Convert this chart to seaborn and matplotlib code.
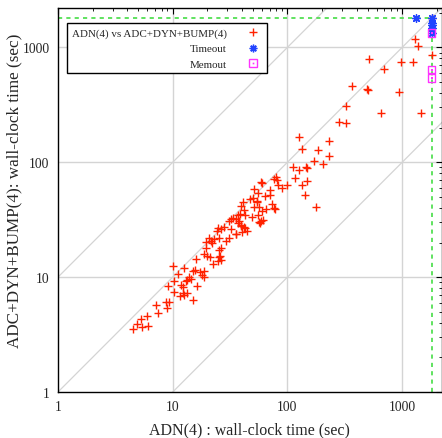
import numpy as np
import pandas as pd
import matplotlib
matplotlib.use("Agg")
import matplotlib.pyplot as plt
import seaborn as sns
from matplotlib.legend_handler import HandlerTuple

# ---------------- data (seconds) ----------------
adn_time = [
    4.48, 4.86, 5.43, 6.13, 5.26, 6.01, 7.49, 7.16, 8.87, 8.69, 9.35, 10.3, 12.4, 13.4, 11.5,
    12.6, 15.1, 9.11, 10.3, 11.7, 12.2, 16.2, 11.1, 13.9, 14.5, 13.4, 13.1, 10.0, 12.6, 16.0,
    15.7, 15.1, 17.3, 18.9, 18.0, 18.6, 20.0, 21.2, 22.6, 24.9,
    51.5, 55.8, 50.5, 54.0, 51.2, 57.0, 47.2, 40.8, 39.4, 41.9, 38.6, 42.7, 49.2, 55.2, 56.6,
    32.1, 33.8, 35.5, 31.0, 36.9, 39.4, 43.0, 40.2, 35.7, 31.0, 28.2, 25.0, 24.2, 26.5, 22.9,
    20.7, 21.9, 19.4, 19.3, 18.8, 25.5, 26.2, 25.5, 26.4, 21.6,
    323, 656, 1445, 281, 323, 126, 232, 135, 185, 232, 170, 206, 112, 126, 146, 148, 116, 148,
    134, 99.3, 89.8, 82.4, 79.1, 76.5, 80.8, 58.9, 60.5, 143, 179, 71.0, 63.8, 70.2, 54.7,
    73.5, 76.5, 78.0, 65.6, 60.1, 36.9, 38.1, 39.2, 41.9, 44.2, 58.9, 57.7, 61.0, 32.3, 35.5,
    29.0, 25.5, 26.0,
    1280, 1371, 513, 974, 1247, 687, 364, 492, 505, 929, 1800, 1800,
]
adc_time = [
    3.57, 3.87, 3.71, 3.74, 4.36, 4.60, 4.86, 5.77, 5.40, 6.13, 6.13, 7.40, 7.26, 7.26, 6.83,
    6.92, 6.38, 8.35, 9.23, 8.62, 8.18, 8.45, 10.7, 10.0, 9.67, 9.48, 9.34, 12.4, 11.9, 14.5,
    11.6, 11.2, 11.1, 11.3, 10.5, 10.1, 15.4, 14.9, 13.1, 13.8,
    58.0, 53.9, 48.8, 45.0, 41.0, 41.0, 48.1, 45.0, 41.2, 38.6, 35.1, 34.7, 33.3, 34.9, 30.1,
    32.0, 32.9, 31.8, 30.5, 29.7, 28.1, 26.9, 24.8, 23.7, 22.1, 27.3, 26.9, 25.0, 26.0, 21.6,
    21.9, 19.8, 20.2, 17.8, 16.0, 21.9, 18.1, 14.9, 14.1, 20.8,
    306, 266, 270, 224, 219, 166, 154, 130, 129, 113, 102, 96.4, 91.4, 85.5, 90.8, 89.1, 72.3,
    68.6, 63.7, 62.8, 59.6, 62.8, 73.8, 71.8, 69.4, 67.2, 65.9, 51.4, 40.4, 57.6, 50.4, 51.4,
    46.2, 43.5, 39.9, 39.4, 38.8, 38.0, 34.9, 30.5, 28.6, 27.3, 25.2, 30.7, 29.3, 31.6, 26.3,
    23.8, 20.8, 17.3, 15.4,
    1191, 1028, 797, 746, 746, 652, 461, 437, 425, 409, 864, 1800,
]
timeout_x = [1324, 1800, 1800, 1800, 1800, 1800]
timeout_y = [1800, 1800, 1641, 1556, 1476, 1335]
memout_x = [1800, 1800, 1800]
memout_y = [1335, 640, 544]

limit = 1800
axis_max = 2200
legend_labels = ["ADN(4) vs ADC+DYN+BUMP(4)", "Timeout", "Memout"]
x_label = "ADN(4) : wall-clock time (sec)"
y_label = "ADC+DYN+BUMP(4): wall-clock time (sec)"

main_df = pd.DataFrame({"adn": adn_time, "adc": adc_time})
to_df = pd.DataFrame({"adn": timeout_x, "adc": timeout_y})
mo_df = pd.DataFrame({"adn": memout_x, "adc": memout_y})

# ---------------- style ----------------
sns.set_theme(style="white")
plt.rcParams["font.family"] = ["Liberation Serif", "DejaVu Serif"]

RED = "#ff2200"
BLUE = "#2244ff"
MAG = "#ff33ff"
GREEN = "#44dd44"
GRID = "#d4d4d4"

fig = plt.figure(figsize=(4.42, 4.39), dpi=100)
ax = fig.add_axes([58 / 442, 46 / 439, (441.5 - 58) / 442, (393 - 9) / 439])
ax.set_xscale("log")
ax.set_yscale("log")
ax.set_xlim(1, axis_max)
ax.set_ylim(1, axis_max)

# grid & diagonals
for v in [10, 100, 1000]:
    ax.axvline(v, color=GRID, lw=1.0, zorder=0)
    ax.axhline(v, color=GRID, lw=1.0, zorder=0)
d = np.array([0.01, 1e5])
for f in [1, 10, 0.1]:
    ax.plot(d, d * f, color=GRID, lw=0.9, zorder=0)

# limit lines
ax.plot([1, limit], [limit, limit], color=GREEN, lw=1.2, ls=(0, (2.5, 2.5)), zorder=1)
ax.plot([limit, limit], [1, limit], color=GREEN, lw=1.2, ls=(0, (2.5, 2.5)), zorder=1)

# points
sns.scatterplot(data=main_df, x="adn", y="adc", marker="+", s=36, color=RED,
                linewidth=1.0, ax=ax, zorder=3, legend=False)
sns.scatterplot(data=to_df, x="adn", y="adc", marker=(8, 2, 0), s=30, color=BLUE,
                linewidth=1.0, ax=ax, zorder=4, legend=False)
sns.scatterplot(data=mo_df, x="adn", y="adc", marker="s", s=30, facecolor="none",
                edgecolor=MAG, linewidth=1.0, ax=ax, zorder=5, legend=False)
sns.scatterplot(data=mo_df, x="adn", y="adc", marker="s", s=1.5, color=MAG,
                linewidth=0, ax=ax, zorder=5, legend=False)

# ticks
ax.tick_params(axis="both", which="major", direction="in", length=4.5, width=0.8,
               top=True, right=True, labelsize=9.8, color="black", pad=6)
ax.tick_params(axis="both", which="minor", direction="in", length=2.3, width=0.6,
               top=True, right=True, color="black")
ax.set_xticks([1, 10, 100, 1000])
ax.set_xticklabels(["1", "10", "100", "1000"])
ax.set_yticks([1, 10, 100, 1000])
ax.set_yticklabels(["1", "10", "100", "1000"])
ax.xaxis.set_minor_locator(matplotlib.ticker.LogLocator(base=10, subs=np.arange(2, 10)))
ax.yaxis.set_minor_locator(matplotlib.ticker.LogLocator(base=10, subs=np.arange(2, 10)))
ax.xaxis.set_minor_formatter(matplotlib.ticker.NullFormatter())
ax.yaxis.set_minor_formatter(matplotlib.ticker.NullFormatter())
ax.set_xlim(1, axis_max)
ax.set_ylim(1, axis_max)
for sp in ax.spines.values():
    sp.set_color("black")
    sp.set_linewidth(1.0)

ax.set_xlabel(x_label, fontsize=11.5, labelpad=6)
ax.set_ylabel(y_label, fontsize=12.3, labelpad=1)
ax.yaxis.set_label_coords(-0.093, 0.526)

# legend
h_main = plt.Line2D([], [], ls="none", marker="+", ms=6, mew=1.0, color=RED)
h_to = plt.Line2D([], [], ls="none", marker=(8, 2, 0), ms=5.5, mew=1.0, color=BLUE)
h_mo1 = plt.Line2D([], [], ls="none", marker="s", ms=5.5, mew=1.0, mfc="none", mec=MAG)
h_mo2 = plt.Line2D([], [], ls="none", marker="s", ms=1.2, mew=0, color=MAG)
leg = ax.legend([h_main, h_to, (h_mo1, h_mo2)], legend_labels,
                handler_map={tuple: HandlerTuple(ndivide=1, pad=0)},
                loc="upper left", bbox_to_anchor=(0.0227, 0.960), borderaxespad=0,
                markerfirst=False, frameon=True, fancybox=False, framealpha=1,
                edgecolor="black", fontsize=7.9, handlelength=1.6, handletextpad=1.6,
                labelspacing=0.5, borderpad=0.45)
leg.get_frame().set_linewidth(1.0)

fig.savefig("out.png", dpi=100)
